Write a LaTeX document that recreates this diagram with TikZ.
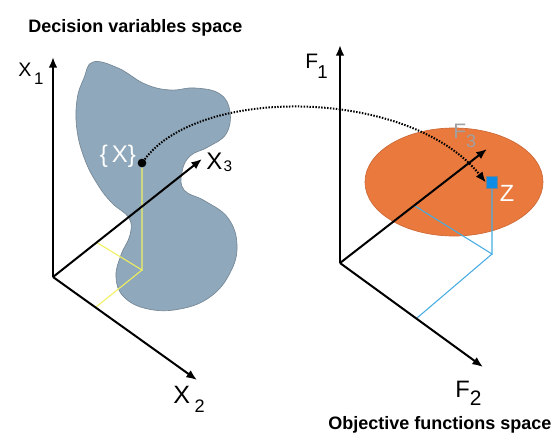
\documentclass[tikz,border=0pt]{standalone}
\usepackage{fontspec}
\setmainfont{Liberation Sans}
\usetikzlibrary{arrows.meta}
\definecolor{blobfill}{RGB}{143,168,187}
\definecolor{blobline}{RGB}{118,136,150}
\definecolor{ellfill}{RGB}{233,121,61}
\definecolor{ellline}{RGB}{205,105,55}
\definecolor{projyel}{RGB}{240,240,95}
\definecolor{projblue}{RGB}{70,172,225}
\definecolor{sqblue}{RGB}{12,140,228}
\definecolor{labgray}{RGB}{160,160,160}
\newcommand\sublab[6]{{\fontsize{#2}{#2}\selectfont #1}\hspace{#5}\raisebox{-#6}{\fontsize{#4}{#4}\selectfont #3}}
\begin{document}
\begin{tikzpicture}[x=0.75pt,y=-0.75pt,
  axis/.style={line width=1.5pt,-{Latex[length=8pt,width=6.5pt]}},
  title/.style={font=\bfseries\fontsize{13.5}{15}\selectfont,inner sep=0,anchor=base west},
  lab/.style={inner sep=0,anchor=base west},
  yproj/.style={draw=projyel,line width=0.8pt},
  bproj/.style={draw=projblue,line width=0.8pt},
  dotline/.style={line width=1.5pt,dash pattern=on 1.1pt off 1.1pt,-{Latex[length=8pt,width=6.5pt]}},
  blob/.style={fill=blobfill,draw=blobline,line width=0.5pt},
  ell/.style={fill=ellfill,draw=ellline,line width=0.5pt}]
\useasboundingbox (0,0) rectangle (551,433);
% titles
\node[title] (t1) at (28,32) {Decision variables space};
\node[title] (t2) at (328,429) {Objective functions space};
% ---------- decision space ----------
\draw[blob] plot[smooth cycle,tension=0.7] coordinates {
 (93,62) (118,68) (145,84) (170,90) (195,88) (220,94) (230,112) (226,134)
 (208,147) (190,156) (182,172) (184,190) (205,201) (228,218) (237,245)
 (230,273) (210,297) (180,309) (148,309) (124,297) (116,277) (121,255)
 (130,235) (129,218) (112,203) (98,185) (85,160) (77,130) (77,100) (84,78)};
\coordinate (o1) at (53,277);
\coordinate (x1end) at (53,57);
\coordinate (x2end) at (197,380);
\coordinate (x3end) at (202,159);
\coordinate (ycorner) at (142,270);
\coordinate (y3) at (96,242);
\coordinate (y2) at (96,307);
\node[circle,fill=black,inner sep=0,minimum size=6.5pt] (xpt) at (142,163) {};
\draw[yproj] (xpt.south) -- (ycorner) -- (y3);
\draw[yproj] (ycorner) -- (y2);
\draw[axis] (o1) -- (x1end);
\draw[axis] (o1) -- (x2end);
\draw[axis] (o1) -- (x3end);
\node[lab] (x1lab) at (18,76) {\sublab{X}{14.7}{1}{12.6}{2pt}{6.7pt}};
\node[lab] (x2lab) at (173,403) {\sublab{X}{18.8}{2}{13.6}{3.5pt}{6.8pt}};
\node[lab] (x3lab) at (206,169) {\sublab{X}{18}{3}{11.5}{1pt}{1.5pt}};
\node[inner sep=0,text=white,font=\fontsize{18}{18}\selectfont] (xset) at (118,156) {\{\,X\}};
% ---------- objective space ----------
\draw[ell] (454,182) ellipse [x radius=66.75pt,y radius=40.5pt];
\coordinate (o2) at (340,263);
\coordinate (f1end) at (340,45);
\coordinate (f2end) at (483,367);
\coordinate (f3end) at (487,149);
\coordinate (bcorner) at (492,254);
\coordinate (b3) at (415,206);
\coordinate (b2) at (417,318);
\node[rectangle,fill=sqblue,draw=gray,line width=0.6pt,inner sep=0,minimum size=8.5pt] (zpt) at (492,182.5) {};
\draw[bproj] (zpt.south) -- (bcorner) -- (b3);
\draw[bproj] (bcorner) -- (b2);
\draw[axis] (o2) -- (f1end);
\draw[axis] (o2) -- (f2end);
\draw[axis] (o2) -- (f3end);
\node[lab] (f1lab) at (305,68) {\sublab{F}{15.7}{1}{14}{-0.5pt}{8pt}};
\node[lab] (f2lab) at (455,397) {\sublab{F}{17.8}{2}{15.7}{0pt}{6pt}};
\node[lab,text=labgray] (f3lab) at (453,138) {\sublab{F}{15.7}{3}{13.6}{0pt}{6.8pt}};
\node[inner sep=0,text=white,font=\fontsize{17.6}{18}\selectfont] (zlab) at (507,193.5) {Z};
% mapping
\draw[dotline] (xpt) .. controls (200,85) and (410,88) .. (zpt.west);
\end{tikzpicture}
\end{document}
